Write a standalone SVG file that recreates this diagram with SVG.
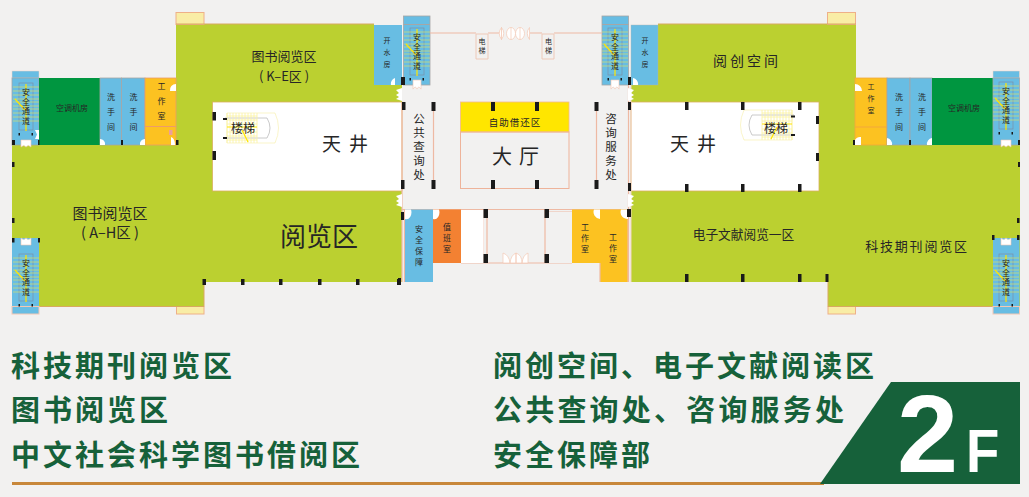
<svg xmlns="http://www.w3.org/2000/svg" width="1029" height="497" viewBox="0 0 1029 497">
<style>
text{font-family:"Noto Sans CJK SC","Noto Sans",sans-serif;fill:#262626}
.v{writing-mode:vertical-rl;text-anchor:middle}
.m{text-anchor:middle}
.s7{font-size:7px}.s8{font-size:8px}.s9{font-size:10px}.s11{font-size:12px}.s13{font-size:13px}.s18{font-size:19px}
.h{font-weight:700;font-size:29px;letter-spacing:3px;fill:#16613a}
.g{fill:#bbd030}.b{fill:#68bde3}.o{fill:#fcc221}.d{fill:#009640}.w{fill:#fff}
.bl{stroke:#a6a6a6;stroke-width:.8}
.pk{fill:none;stroke:#eeb9a3;stroke-width:1.2}
.ed{fill:none;stroke:#d9a860;stroke-width:1}
.cr{fill:#f9eda6;stroke:#eeb088;stroke-width:1}
.dr{fill:#fff;stroke:#f3c8b4;stroke-width:.6}
.p{fill:#1a1a1a}
</style>
<defs>
<g id="stair">
<rect x="-7" y="-23" width="14" height="47" fill="none" stroke="#7c8fa6" stroke-width=".7"/>
<path d="M-13-19H13M-13-15H13M-13-11H13M-13-7H13M-13-4H13M-13 0H13M-13 3H13M-13 7H13M-13 11H13M-13 15H13" stroke="#d8e06a" stroke-width=".7"/>
<path d="M0-22V25M-11-7L-1 4" stroke="#ffe600" stroke-width="1.2" fill="none"/>
<rect x="-7.500" y="27" width="1.500" height="2.500" class="p"/><rect x="5.500" y="27" width="1.500" height="2.500" class="p"/>
<text class="v s8" x="0" y="1" letter-spacing="1.500">安全通道</text>
</g>
<g id="lift">
<path d="M0 0H12V25H0Z" fill="none" stroke="#eec9b8" stroke-width="1"/>
</g>
<path id="door2" d="M0 0H10V7Q7 4 5 7Q3 4 0 7Z" class="dr"/>
<path id="tail" d="M0 0L6 2L3 5L6 7L3 9L6 11L0 13Z" class="w"/>
<g id="lou">
<path d="M0 0H48Q55 15 48 30H0Z" fill="#fff" stroke="#f6efa6" stroke-width=".6"/>
<path d="M-2 5H40Q46 15 40 25H-2" fill="none" stroke="#bdbdbd" stroke-width=".8"/>
<path d="M0 0V30M3 0V30M6 0V30M9 0V30M12 0V30M15 0V30M18 0V30M21 0V30M24 0V30M27 0V30M30 0V30M0 3H30M0 7H30M0 11H30M0 19H30M0 23H30M0 27H30" stroke="#fbf3a0" stroke-width=".8"/>
<path d="M0 14H30M15 17L21 29" stroke="#ffe600" stroke-width="1.2"/>
</g>
</defs>
<rect width="1029" height="497" fill="#f2f1f0"/>

<g id="floor-left">
<path class="g" d="M176 24H374V85H402V282H204V306.500H12V145H176Z"/>
<rect x="176" y="12.500" width="28" height="12" class="cr"/>
<rect x="176.500" y="306.500" width="27.500" height="7.500" class="cr"/>
<path d="M176 24H374M204 282V306.500H12" class="ed"/>
<rect id="atrium-left" x="212.500" y="102" width="189.500" height="89" class="w" stroke="#d9b060" stroke-width=".8"/>
<use href="#lou" x="227" y="113"/>
<text class="s11 m" x="243" y="133">楼梯</text>
<text class="s18 m" x="349" y="151" letter-spacing="8">天井</text>
<text class="m" x="319" y="246" font-size="26">阅览区</text>
<text class="s13 m" x="284" y="61">图书阅览区</text>
<text class="s13 m" x="284" y="81">( K–E区 )</text>
<text class="m" x="110" y="219" font-size="15">图书阅览区</text>
<text class="m" x="110" y="238" font-size="14.500">( A–H区 )</text>
</g>

<g id="floor-right">
<path class="g" d="M658 24H856V145H1020V306.500H828V282H631V85H658Z"/>
<rect x="827.500" y="12.500" width="28" height="12" class="cr"/>
<rect x="828" y="306.500" width="27.500" height="7.500" class="cr"/>
<path d="M658 24H856M828 282V306.500H1020" class="ed"/>
<rect id="atrium-right" x="631" y="102" width="188" height="89" class="w" stroke="#d9b060" stroke-width=".8"/>
<use href="#lou" transform="translate(792 110) scale(-1 1)"/>
<text class="s11 m" x="776" y="133">楼梯</text>
<text class="s18 m" x="697" y="151" letter-spacing="8">天井</text>
<text class="m" x="743.500" y="239" font-size="12.700">电子文献阅览一区</text>
<text class="s13 m" x="917" y="251" letter-spacing="1.800">科技期刊阅览区</text>
<text class="m" x="747" y="66" font-size="14" letter-spacing="3">阅创空间</text>
</g>

<g id="rooms-left">
<rect x="12" y="71" width="27" height="7" class="b" stroke="#f3d3c4" stroke-width=".5"/>
<rect x="12" y="78" width="27" height="67" class="b bl"/>
<rect x="39" y="78" width="61" height="67" class="d"/>
<rect x="100" y="78" width="21.500" height="67" class="b bl"/>
<rect x="121.500" y="78" width="23.500" height="67" class="b bl"/>
<rect x="145" y="78" width="31" height="67" class="o" stroke="#ec9c6a" stroke-width=".8"/>
<path d="M145 126.500H176" stroke="#ec9c6a"/>
<rect x="169" y="130" width="3.500" height="5" fill="#ec9f9a"/>
<text class="s8 m" x="72" y="111">空调机房</text>
<text class="v s8" x="111" y="115" letter-spacing="7">洗手间</text>
<text class="v s8" x="133.500" y="115" letter-spacing="7">洗手间</text>
<text class="v s8" x="161.500" y="104" letter-spacing="7">工作室</text>
<rect x="12" y="238" width="27" height="76" class="b"/>
<path d="M12 306.500H39" stroke="#a6a6a6"/>
<rect x="12" y="306.500" width="27" height="7.500" fill="none" stroke="#f3c8b4"/>
<rect x="374" y="25" width="28" height="60" class="b"/>
<text class="v s7" x="387" y="55" letter-spacing="5">开水房</text>
</g>

<g id="rooms-right">
<rect x="855" y="78" width="32" height="67" class="o" stroke="#f2a83c" stroke-width=".8"/>
<path d="M855 127H887" stroke="#f2a83c"/>
<rect x="887" y="78" width="23" height="67" class="b bl"/>
<rect x="910" y="78" width="22" height="67" class="b bl"/>
<rect x="932" y="78" width="61" height="67" class="d"/>
<rect x="993" y="71" width="26.500" height="7" class="b" stroke="#f3d3c4" stroke-width=".5"/>
<rect x="993" y="78" width="26.500" height="67" class="b bl"/>
<text class="v s7" x="871" y="101" letter-spacing="5">工作室</text>
<text class="v s8" x="899" y="115" letter-spacing="7">洗手间</text>
<text class="v s8" x="922" y="115" letter-spacing="7">洗手间</text>
<text class="s8 m" x="964" y="111">空调机房</text>
<rect x="993" y="238" width="26.500" height="76" class="b"/>
<path d="M993 306.500H1019.500" stroke="#a6a6a6"/>
<rect x="993" y="306.500" width="26.500" height="7.500" fill="none" stroke="#f3c8b4"/>
<rect x="631" y="25" width="27" height="60" class="b" stroke="#b4b4b4" stroke-width=".4"/>
<text class="v s7" x="645" y="55" letter-spacing="5">开水房</text>
</g>

<g id="stairs">
<use href="#stair" x="26" y="106"/>
<use href="#stair" x="26" y="277"/>
<use href="#stair" x="1006" y="105"/>
<use href="#stair" x="1006" y="277"/>
<rect x="403.500" y="16" width="26.500" height="69" class="b bl"/>
<path d="M403.500 24.500H430" stroke="#a6a6a6"/>
<use href="#stair" x="417" y="51"/>
<rect x="602" y="16" width="26.500" height="69" class="b bl"/>
<path d="M602 24.500H628.500" stroke="#a6a6a6"/>
<use href="#stair" x="615" y="51"/>
<use href="#door2" x="21" y="140"/>
<use href="#door2" x="1001" y="140"/>
<use href="#door2" transform="translate(31 245) scale(-1 -1)"/>
<use href="#door2" transform="translate(1011 245) scale(-1 -1)"/>
<use href="#door2" transform="translate(413 80) scale(.8 1.300)"/>
<use href="#door2" transform="translate(611 80) scale(.8 1.300)"/>
<path d="M35 130H39V139H35L37 134.500Z" class="w"/>
</g>

<g id="center">
<path d="M430 33H476M488 33H501M530 33H542M554 33H602" class="pk" stroke-width="1"/>
<use href="#lift" x="476" y="34"/>
<use href="#lift" x="542" y="34"/>
<text class="v s7" x="482" y="47" letter-spacing="2">电梯</text>
<text class="v s7" x="548.500" y="47" letter-spacing="2">电梯</text>
<path d="M501.500 27.500Q506 33 501.500 39.500ZM529.500 27.500Q525 33 529.500 39.500Z" fill="#fff" stroke="#f3c8b4" stroke-width=".7"/>
<ellipse cx="511" cy="33.500" rx="4.500" ry="6" fill="#fff" stroke="#f3c8b4" stroke-width=".7"/>
<ellipse cx="520" cy="33.500" rx="4.500" ry="6" fill="#fff" stroke="#f3c8b4" stroke-width=".7"/>
<path d="M501.500 27.500Q497 33 501.500 39.500ZM511 27.500V39.500M520 27.500V39.500" fill="#fff" stroke="#f3c8b4" stroke-width=".7"/>
<path d="M402 102V282M433.500 102V189M596.500 102V189M628.500 85V282" class="pk"/>
<path d="M631 85V282" stroke="#f3d3c4"/>
<text class="v" font-size="11.500" x="419" y="148" letter-spacing="2.500">公共查询处</text>
<text class="v" font-size="11.500" x="611" y="148" letter-spacing="2.500">咨询服务处</text>
<rect x="460.500" y="102" width="108.500" height="30" fill="#ffe600" stroke="#f2b98e" stroke-width=".8"/>
<rect x="460.500" y="132" width="108.500" height="56.500" fill="none" stroke="#eeb39a" stroke-width="1"/>
<text class="m" font-size="9.500" x="515" y="126" letter-spacing="1">自助借还区</text>
<text class="m" x="519" y="164" font-size="20" letter-spacing="7">大厅</text>
<path d="M402 209.500H628M404.500 209V282M487 209.500V263M461 263H487M545 209.500V263M545 263H572M483 209.500V263M549 212H572" class="pk"/>
<path d="M487 263H545" class="pk"/>
<rect x="461" y="210" width="22.500" height="53" class="w"/>
<rect x="549" y="212" width="23" height="51" fill="#f2f1f0"/>
<rect id="r-safe" x="405" y="209.500" width="28" height="72.500" class="b"/>
<rect id="r-duty" x="433" y="209.500" width="28" height="53.500" fill="#f38132"/>
<rect id="r-w1" x="572" y="209.500" width="28" height="53.500" class="o"/>
<rect id="r-w2" x="600" y="209.500" width="28" height="72.500" class="o"/>
<path d="M600 263V282M628 209.500V282" class="pk"/>
<text class="v s8" x="419" y="247" letter-spacing="3">安全保障</text>
<text class="v s8" x="447" y="239" letter-spacing="3">值班室</text>
<text class="v s8" x="585" y="239" letter-spacing="3">工作室</text>
<text class="v s8" x="613" y="249" letter-spacing="3">工作室</text>
<path d="M503 253Q509 255 510 263H503ZM516 253Q511 255 510 263H516ZM516 253Q522 255 522 263H516ZM528 253Q523 255 522 263H528Z" fill="#fff" stroke="#f3c8b4" stroke-width=".7"/>
</g>

<g id="doors" class="w">
<path d="M105 145A5 5 0 0 0 100 139V145ZM140 145A5 5 0 0 1 145 139V145ZM171 145V137A5 8 0 0 1 175 145ZM176 81V91H170A6 6 0 0 1 176 84Z"/>
<path d="M855 84V91H862A7 7 0 0 0 855 84ZM855 145V140A6 6 0 0 1 861 137V145ZM887 138V145H892A6 6 0 0 0 887 138ZM932 138V145H927A6 6 0 0 1 932 138Z"/>
<path d="M391 85A6 6 0 0 1 395 78V85ZM633 85V78A6 6 0 0 1 638 85Z"/>
<use href="#tail" transform="translate(402 88) scale(-1 1)"/>
<use href="#tail" x="628" y="88"/>
<use href="#tail" transform="translate(402 194) scale(-1 1)"/>
<use href="#tail" x="628" y="194"/>
<path d="M405 209.500H411A5 7 0 0 1 405 219ZM433 209.500H439A5 7 0 0 1 433 219ZM594 209.500H600V219A7 7 0 0 1 594 209.500ZM621 209.500H628V219A7 7 0 0 1 621 209.500Z"/>
</g>

<g id="pillars" class="p">
<path d="M12 140h3v5h-3zM38 140h1.500v5h-1.500zM121 140h2v5h-2zM176 140h2.500v5h-2.500zM12 162h2.500v5h-2.500zM212.500 112h3.500v8.500h-3.500zM212.500 151h3.500v9h-3.500zM223 118h4v2h-4zM223 137h4v2h-4z"/>
<path d="M401 77h4v8h-4zM402 102h3.500v8h-3.500zM401 180h3.500v9h-3.500zM431.500 102h4v9h-4zM431.500 180h4v9h-4zM491 102h4v9h-4zM535 102h4v9h-4zM491 180h4v9h-4zM535 180h4v9h-4zM594.500 102h4v9h-4zM594.500 180h4v9h-4zM628 77h3v8h-3zM628 102h3v8h-3zM628 183h3v8h-3z"/>
<path d="M401 212h3v8h-3zM398 278h3v7h-3zM483.500 209h4.500v9h-4.500zM483.500 254h4.500v9h-4.500zM544.500 209h4.500v9h-4.500zM544.500 254h4.500v9h-4.500zM627 209h4v8h-4z"/>
<path d="M798 102h3.500v8h-3.500zM816 116h3v8h-3zM816 153h3v8h-3zM791 115.500h4v2h-4zM791 134h4v2h-4zM853 140h2v5h-2zM909 140h2v5h-2zM1018 140h2v5h-2zM1018 162h2v5h-2z"/>
<path d="M685 102h3.500v8h-3.500zM741 102h3.500v8h-3.500zM685 184h3.500v8h-3.500zM741 184h3.500v8h-3.500zM798 184h3.500v8h-3.500zM685 274h3.500v8h-3.500zM741 274h3.500v8h-3.500zM798 274h3.500v8h-3.500zM825.500 274h3v8h-3z"/>
<path d="M202.500 279h3.500v6h-3.500zM241 279h3.500v6h-3.500zM279 279h3.500v6h-3.500zM318 279h3.500v6h-3.500zM356 279h3.500v6h-3.500zM397 279h3.500v6h-3.500z"/>
<path d="M12 218h2.500v5h-2.500zM12 238h2.500v4.500h-2.500zM38 238h2v4.500h-2zM1017 218h2.500v5h-2.500zM1017 235h2.500v5h-2.500zM992 235h2.500v5h-2.500z"/>
</g>

<g id="legend">
<text class="h" x="11" y="377">科技期刊阅览区</text>
<text class="h" x="11" y="421">图书阅览区</text>
<text class="h" x="11" y="466">中文社会科学图书借阅区</text>
<text class="h" x="493" y="377">阅创空间、电子文献阅读区</text>
<text class="h" x="493" y="421" style="letter-spacing:3.200px">公共查询处、咨询服务处</text>
<text class="h" x="493" y="466">安全保障部</text>
<rect x="12" y="482" width="812" height="3" fill="#c8873a"/>
</g>

<g id="badge">
<path d="M891 382H1020V484H820Z" fill="#16613a"/>
<text x="897" y="472" style="font-family:'Liberation Sans',sans-serif;font-weight:700;font-size:110px;fill:#fff">2</text>
<text transform="translate(966 472) scale(.88 1)" style="font-family:'Liberation Sans',sans-serif;font-weight:700;font-size:62px;fill:#fff">F</text>
</g>
</svg>
